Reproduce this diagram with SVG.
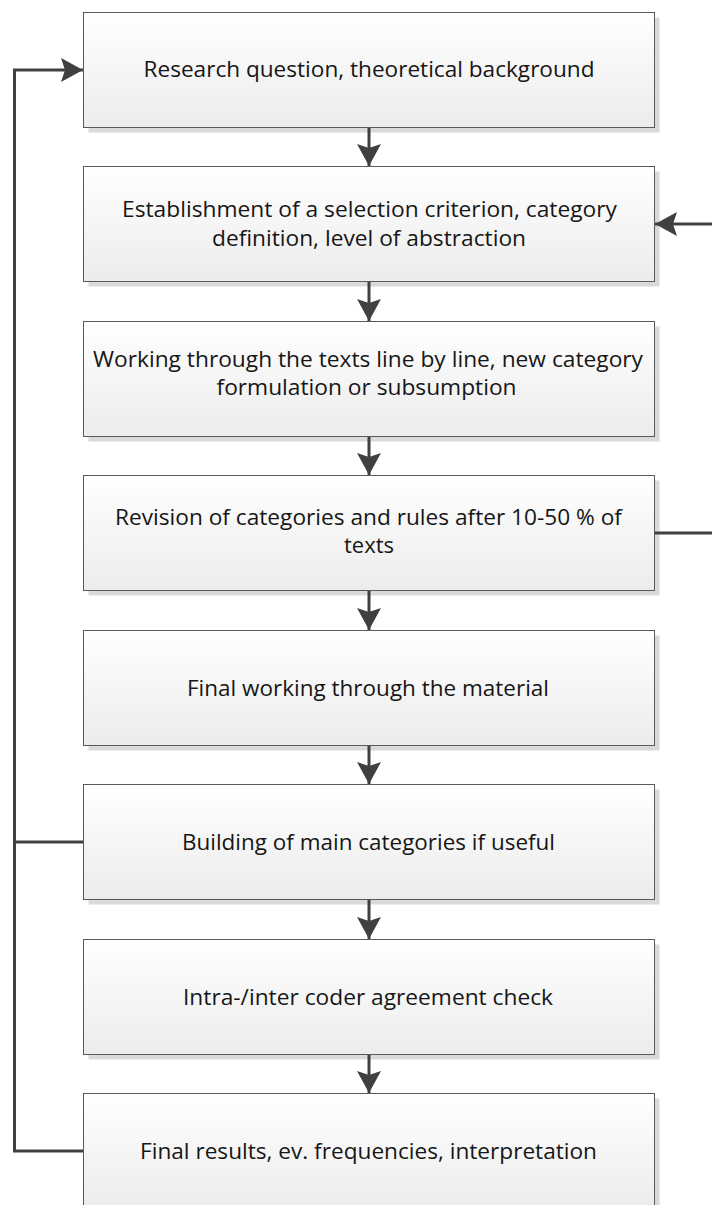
<svg xmlns="http://www.w3.org/2000/svg" width="712" height="1205" viewBox="0 0 712 1205">
  <style>
    .shadow { fill: #dadada; }
    .box { fill: url(#boxFill); stroke: #5a5a5a; stroke-width: 1; }
    .label { font-family: "Open Sans", "Noto Sans", "Liberation Sans", sans-serif; font-size: 22px; fill: #161616; text-anchor: middle; }
    .conn { fill: none; stroke: #404040; stroke-width: 3; }
  </style>
  <defs>
    <linearGradient id="boxFill" x1="0" y1="0" x2="0" y2="1">
      <stop offset="0" stop-color="#ffffff"/>
      <stop offset="1" stop-color="#ececec"/>
    </linearGradient>
    <marker id="head" markerUnits="userSpaceOnUse" viewBox="0 0 22 24" refX="22" refY="12" markerWidth="22" markerHeight="24" orient="auto">
      <path d="M0,0 L22,12 L0,24 L4,12 Z" fill="#404040"/>
    </marker>
  </defs>

  <rect width="712" height="1205" fill="#ffffff"/>

  <!-- process steps -->
  <g id="step1">
    <rect class="shadow" x="88.5" y="17.5" width="571" height="115"/>
    <rect class="box" x="83.5" y="12.5" width="571" height="115"/>
    <text class="label" x="369" y="77" textLength="451" lengthAdjust="spacingAndGlyphs">Research question, theoretical background</text>
  </g>
  <g id="step2">
    <rect class="shadow" x="88.5" y="171.5" width="571" height="115"/>
    <rect class="box" x="83.5" y="166.5" width="571" height="115"/>
    <text class="label" x="369.5" y="217" textLength="495" lengthAdjust="spacingAndGlyphs">Establishment of a selection criterion, category</text>
    <text class="label" x="369" y="246" textLength="314" lengthAdjust="spacingAndGlyphs">definition, level of abstraction</text>
  </g>
  <g id="step3">
    <rect class="shadow" x="88.5" y="326.5" width="571" height="115"/>
    <rect class="box" x="83.5" y="321.5" width="571" height="115"/>
    <text class="label" x="368" y="367" textLength="550" lengthAdjust="spacingAndGlyphs">Working through the texts line by line, new category</text>
    <text class="label" x="366.5" y="395" textLength="300" lengthAdjust="spacingAndGlyphs">formulation or subsumption</text>
  </g>
  <g id="step4">
    <rect class="shadow" x="88.5" y="480.5" width="571" height="115"/>
    <rect class="box" x="83.5" y="475.5" width="571" height="115"/>
    <text class="label" x="368.5" y="525" textLength="507" lengthAdjust="spacingAndGlyphs">Revision of categories and rules after 10-50 % of</text>
    <text class="label" x="369" y="553">texts</text>
  </g>
  <g id="step5">
    <rect class="shadow" x="88.5" y="635.5" width="571" height="115"/>
    <rect class="box" x="83.5" y="630.5" width="571" height="115"/>
    <text class="label" x="368" y="696" textLength="362" lengthAdjust="spacingAndGlyphs">Final working through the material</text>
  </g>
  <g id="step6">
    <rect class="shadow" x="88.5" y="789.5" width="571" height="115"/>
    <rect class="box" x="83.5" y="784.5" width="571" height="115"/>
    <text class="label" x="368.5" y="850" textLength="373" lengthAdjust="spacingAndGlyphs">Building of main categories if useful</text>
  </g>
  <g id="step7">
    <rect class="shadow" x="88.5" y="944.5" width="571" height="115"/>
    <rect class="box" x="83.5" y="939.5" width="571" height="115"/>
    <text class="label" x="368" y="1005" textLength="370" lengthAdjust="spacingAndGlyphs">Intra-/inter coder agreement check</text>
  </g>
  <g id="step8">
    <rect class="shadow" x="88.5" y="1098.5" width="571" height="115"/>
    <rect class="box" x="83.5" y="1093.5" width="571" height="115"/>
    <text class="label" x="368.5" y="1159" textLength="457" lengthAdjust="spacingAndGlyphs">Final results, ev. frequencies, interpretation</text>
  </g>

  <!-- connectors -->
  <g id="connectors">
    <path class="conn" d="M369,128 V166" marker-end="url(#head)"/>
    <path class="conn" d="M369,282 V321" marker-end="url(#head)"/>
    <path class="conn" d="M369,437 V475" marker-end="url(#head)"/>
    <path class="conn" d="M369,591 V630" marker-end="url(#head)"/>
    <path class="conn" d="M369,746 V784" marker-end="url(#head)"/>
    <path class="conn" d="M369,900 V939" marker-end="url(#head)"/>
    <path class="conn" d="M369,1055 V1093" marker-end="url(#head)"/>
    <!-- feedback from the last steps back to the research question -->
    <path class="conn" d="M83,1151 H14.5 V70 H83" marker-end="url(#head)"/>
    <path class="conn" d="M83,842 H14.5"/>
    <!-- revision loop back to the category definition -->
    <path class="conn" d="M655,533 H730 V224 H655" marker-end="url(#head)"/>
  </g>
</svg>
